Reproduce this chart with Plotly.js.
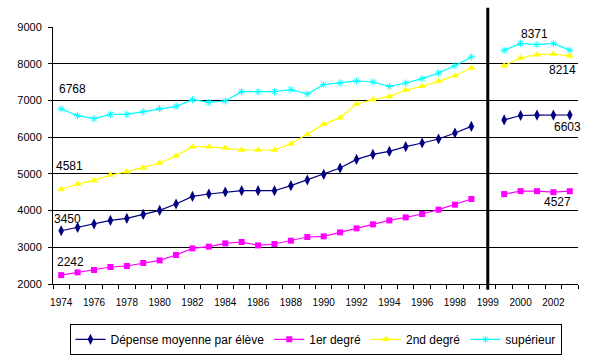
<!DOCTYPE html>
<html>
<head>
<meta charset="utf-8">
<script src="https://cdn.plot.ly/plotly-3.0.1.min.js"></script>
<style>
html,body{margin:0;padding:0;background:#fff;}
#chart{width:592px;height:359px;}
</style>
</head>
<body>
<div id="chart"></div>
<script>
// Category labels (index 26 is the separator column)
const categories = ["1974","1975","1976","1977","1978","1979","1980","1981","1982","1983",
  "1984","1985","1986","1987","1988","1989","1990","1991","1992","1993","1994","1995",
  "1996","1997","1998","1999","1999","1999","2000","2001","2002","2003"];

const depenseMoyenne = [3450,3542,3634,3732,3787,3896,4005,4179,4386,4452,4506,4541,4541,4541,
  4678,4833,4985,5160,5394,5530,5612,5740,5841,5950,6113,6293,null,6470,6590,6600,6600,6603];
const premierDegre = [2242,2316,2381,2463,2490,2572,2643,2790,2970,3016,3106,3144,3051,3090,
  3180,3280,3297,3406,3515,3624,3732,3814,3907,4024,4160,4315,null,4450,4530,4530,4500,4527];
const secondDegre = [4581,4724,4822,4969,5059,5168,5296,5487,5740,5740,5705,5650,5650,5650,
  5822,6075,6348,6530,6903,7020,7110,7285,7383,7519,7674,7884,null,7947,8156,8246,8265,8214];
const superieur = [6768,6585,6503,6620,6620,6693,6775,6838,7020,6947,6985,7238,7238,7238,
  7293,7176,7429,7475,7530,7502,7383,7475,7592,7748,7947,8183,null,8363,8554,8519,8554,8371];

const seriesNames = ["Dépense moyenne par élève","1er degré","2nd degré","supérieur"];
const yTicks = [2000,3000,4000,5000,6000,7000,8000,9000];
const separatorIndex = 26;

const xIdx = categories.map((c,i)=>i);
const tickIdx = xIdx.filter(i => i % 2 === 0);
const tickText = tickIdx.map(i => categories[i]);

const FONT = "Liberation Sans, Arial, sans-serif";

function trace(name, vals, color, symbol, size, mline){
  return {
    type:'scatter', mode:'lines+markers', name:name, x:xIdx, y:vals,
    connectgaps:false,
    line:{color:color, width:1.2},
    marker:{color:color, symbol:symbol, size:size, line:{color:color, width:mline}},
    hoverinfo:'skip'
  };
}

const data = [
  trace(seriesNames[0], depenseMoyenne, '#000080', 'diamond-tall', 8, 0),
  trace(seriesNames[1], premierDegre, '#FF00FF', 'square', 6, 0),
  trace(seriesNames[2], secondDegre, '#FFFF00', 'triangle-up', 7, 0),
  trace(seriesNames[3], superieur, '#00FFFF', 'asterisk-open', 6, 1),
  // invisible helper for boundary ticks
  {type:'scatter', x:[0], y:[null], xaxis:'x2', yaxis:'y', showlegend:false, hoverinfo:'skip'}
];

const first = 0, last = categories.length - 1;
function lab(series, i, dx, dy){
  return {x:i, y:series[i], xref:'x', yref:'y', text:String(series[i]), showarrow:false,
    xshift:dx, yshift:dy, font:{family:FONT, size:12, color:'#000'}};
}
const annotations = [
  lab(superieur, first, 11, 20),
  lab(secondDegre, first, 8, 23),
  lab(depenseMoyenne, first, 6, 12),
  lab(premierDegre, first, 9, 13),
  lab(superieur, last, -35, 16),
  lab(secondDegre, last, -7, -14),
  lab(depenseMoyenne, last, -2, -12),
  lab(premierDegre, last, -12, -11)
];

const boundaryTicks = [];
for (let i = -0.5; i <= last + 0.5; i += 1) boundaryTicks.push(i);

const layout = {
  width:592, height:359,
  margin:{l:53, r:14, t:27, b:75, autoexpand:false},
  paper_bgcolor:'#fff', plot_bgcolor:'#fff',
  font:{family:FONT, size:11, color:'#000'},
  showlegend:true,
  legend:{orientation:'h', x:0.5, xanchor:'center', y:-0.155, yanchor:'top',
    bordercolor:'#000', borderwidth:1, bgcolor:'#fff',
    font:{family:FONT, size:12, color:'#000'}, itemwidth:30, tracegroupgap:0},
  xaxis:{range:[-0.5, last+0.5], tickmode:'array', tickvals:tickIdx, ticktext:tickText,
    ticks:'', showgrid:false, zeroline:false, showline:true, linecolor:'#000', linewidth:1,
    tickfont:{family:FONT, size:10, color:'#000'}, fixedrange:true, ticklabelstandoff:9,
    automargin:false},
  xaxis2:{overlaying:'x', anchor:'y', side:'bottom', range:[-0.5, last+0.5], tickmode:'array',
    tickvals:boundaryTicks, ticks:'outside', ticklen:4, tickcolor:'#000', tickwidth:1,
    showticklabels:false, showgrid:false, zeroline:false, showline:false},
  yaxis:{range:[2000, 9000], tickmode:'array', tickvals:yTicks, ticks:'outside', ticklen:4,
    tickcolor:'#000', showgrid:true, gridcolor:'#000', gridwidth:1, zeroline:false,
    showline:true, linecolor:'#000', linewidth:1,
    tickfont:{family:FONT, size:11, color:'#000'}, ticklabelstandoff:4, fixedrange:true,
    automargin:false},
  shapes:[{type:'line', xref:'x', yref:'paper', x0:separatorIndex, x1:separatorIndex,
    y0:-0.022, y1:1.075, line:{color:'#000', width:3}}],
  annotations:annotations
};

Plotly.newPlot('chart', data, layout, {staticPlot:true, displayModeBar:false});
</script>
</body>
</html>
